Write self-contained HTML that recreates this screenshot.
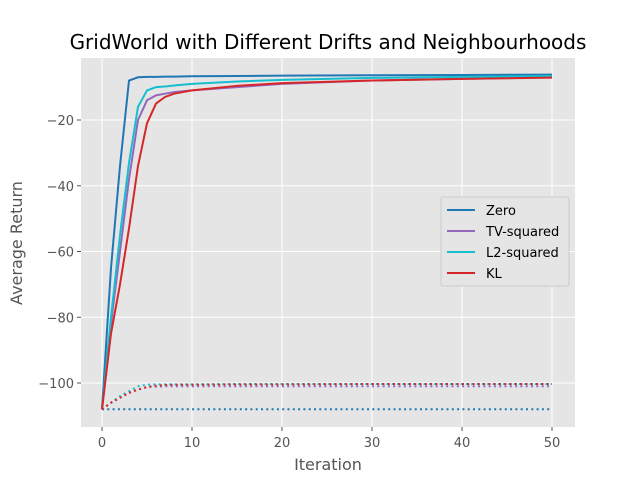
<!DOCTYPE html>
<html><head><meta charset="utf-8"><style>
body{margin:0;background:#fff;font-family:"Liberation Sans","DejaVu Sans",sans-serif}
</style></head><body>
<svg id="chart" width="640" height="480" xmlns="http://www.w3.org/2000/svg" font-family="DejaVu Sans, Liberation Sans, sans-serif">
<rect x="0" y="0" width="640" height="480" fill="#fff"/>
<text x="328" y="49" text-anchor="middle" font-size="20" fill="#000">GridWorld with Different Drifts and Neighbourhoods</text>
<rect x="81" y="58" width="494" height="369" fill="#e5e5e5"/>
<g id="grid"></g><g id="ticks"></g><g id="series"></g>
<text x="328" y="470" text-anchor="middle" font-size="16" fill="#555">Iteration</text>
<text transform="translate(22,243) rotate(-90)" text-anchor="middle" font-size="16" fill="#555">Average Return</text>
<g id="legend">
<rect x="441" y="197" width="128" height="89" fill="#e5e5e5" stroke="#ccc" stroke-width="1" rx="2"/>
</g>
</svg>
<script>
const iters=[0,1,2,3,4,5,6,7,8,10,15,20,30,40,50];
const zeroVals=[-108,-65,-34,-8,-7,-6.9,-6.9,-6.8,-6.8,-6.7,-6.6,-6.5,-6.4,-6.3,-6.2];
const tvVals=[-108,-82,-60,-38,-20,-14,-12.5,-12,-11.5,-11,-10,-9,-8,-7.5,-7];
const l2Vals=[-108,-80,-55,-33,-16,-11,-10,-9.8,-9.5,-9,-8.3,-7.8,-7.2,-6.9,-6.6];
const klVals=[-108,-85,-70,-53,-34,-21,-15,-13,-12,-11,-9.6,-8.8,-8,-7.5,-7.1];
const zeroBase=[-108,-108,-108,-108,-108,-108,-108,-108,-108,-108,-108,-108,-108,-108,-108];
const tvBase=[-108,-106,-104.5,-103,-102,-101.3,-101.1,-101,-101,-101,-101,-101,-101,-101,-101];
const l2Base=[-108,-106,-104,-102.5,-101,-100.5,-100.4,-100.4,-100.4,-100.4,-100.3,-100.3,-100.3,-100.3,-100.3];
const klBase=[-108,-106,-104.5,-103,-102,-101.2,-100.8,-100.6,-100.5,-100.5,-100.4,-100.4,-100.3,-100.3,-100.3];
const xTicks=[0,10,20,30,40,50];
const yTicks=[-20,-40,-60,-80,-100];
const names=["Zero","TV-squared","L2-squared","KL"];
const colors=["#1f77b4","#9467bd","#17becf","#d62728"];
const xs=v=>102+v*9;
const ys=v=>54.25-v*3.2875;
const NS="http://www.w3.org/2000/svg";
function mk(t,a,p){const e=document.createElementNS(NS,t);for(const k in a)e.setAttribute(k,a[k]);p.appendChild(e);return e;}
const grid=document.getElementById('grid'),ticks=document.getElementById('ticks'),ser=document.getElementById('series'),leg=document.getElementById('legend');
xTicks.forEach(t=>{
 const g=mk('line',{x1:xs(t),x2:xs(t),y1:58,y2:427,stroke:'#fff','stroke-width':1},grid);
 
 
 mk('line',{x1:xs(t),x2:xs(t),y1:427,y2:431,stroke:'#555'},ticks);
 const l=mk('text',{x:xs(t),y:447,'text-anchor':'middle','font-size':13,fill:'#555'},ticks);l.textContent=t;
 
 
});
yTicks.forEach(t=>{
 const g=mk('line',{x1:81,x2:575,y1:ys(t),y2:ys(t),stroke:'#fff','stroke-width':1},grid);
 
 
 mk('line',{x1:77,x2:81,y1:ys(t),y2:ys(t),stroke:'#555'},ticks);
 const l=mk('text',{x:74,y:ys(t)+5,'text-anchor':'end','font-size':13,fill:'#555'},ticks);l.textContent=String(t).replace('-','\u2212');
 
 
});
const main=[zeroVals,tvVals,l2Vals,klVals],base=[zeroBase,tvBase,l2Base,klBase];
base.forEach((vals,i)=>{
 const p=mk('polyline',{points:iters.map((x,j)=>xs(x)+','+ys(vals[j])).join(' '),fill:'none',stroke:colors[i],'stroke-width':2,'stroke-dasharray':'2,3.3'},ser);
 
 
});
main.forEach((vals,i)=>{
 const p=mk('polyline',{points:iters.map((x,j)=>xs(x)+','+ys(vals[j])).join(' '),fill:'none',stroke:colors[i],'stroke-width':2},ser);
 
 
});
names.forEach((n,i)=>{
 const y=210+i*21;
 const g=mk('g',{},leg);
 
 
 mk('line',{x1:447,x2:475,y1:y,y2:y,stroke:colors[i],'stroke-width':2},g);
 const t=mk('text',{x:486,y:y+5,'font-size':13,fill:'#000'},g);t.textContent=n;
});
</script>
</body></html>
